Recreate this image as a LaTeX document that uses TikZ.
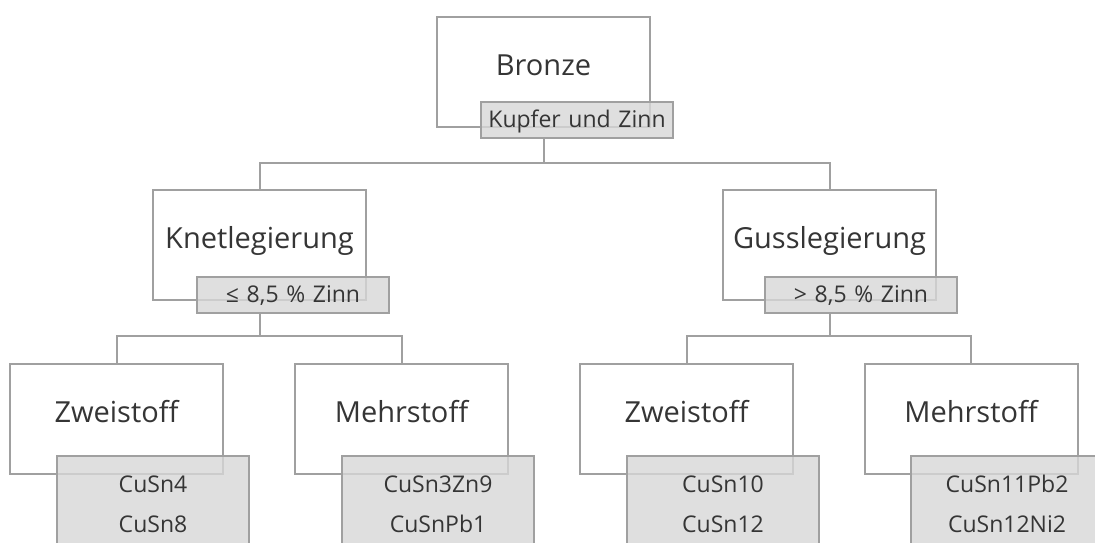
\documentclass[tikz,border=0pt]{standalone}
\usepackage{fontspec}
\setmainfont{Open Sans}
\definecolor{linegray}{HTML}{A0A0A0}
\definecolor{labelfill}{HTML}{D8D8D8}
\definecolor{txt}{HTML}{353535}
\begin{document}
\begin{tikzpicture}[x=1pt,y=-1pt,
  box/.style={draw=linegray,line width=2pt,fill=white,rectangle,inner sep=0pt,
    minimum width=213pt,text width=213pt,align=center,text height=58pt,text depth=52pt,
    font=\fontsize{29}{34}\selectfont,text=txt},
  lab/.style={draw=linegray,line width=2pt,fill=labelfill,fill opacity=0.8,draw opacity=1,text opacity=1,
    rectangle,inner sep=0pt,minimum width=192pt,text width=192pt,align=center,
    text height=25pt,text depth=11pt,font=\fontsize{23}{27}\selectfont,text=txt},
  leaf/.style={lab,text height=36pt,text depth=110pt,font=\fontsize{23}{40}\selectfont},
  conn/.style={draw=linegray,line width=2pt}]
\clip (0,0) rectangle (1095,543);
\fill[white] (0,0) rectangle (1095,543);
% main boxes
\node[box,anchor=north] (bronze) at (543.5,16) {Bronze};
\node[box,anchor=north] (knet) at (259.5,189) {Knetlegierung};
\node[box,anchor=north] (guss) at (829.5,189) {Gusslegierung};
\node[box,anchor=north] (zwL) at (116.5,363) {Zweistoff};
\node[box,anchor=north] (meL) at (401.5,363) {Mehrstoff};
\node[box,anchor=north] (zwR) at (686.5,363) {Zweistoff};
\node[box,anchor=north] (meR) at (971,363) {Mehrstoff};
% label boxes
\node[lab,anchor=north west] (kupfer) at (480,101) {Kupfer und Zinn};
\node[lab,anchor=north west] (knetlab) at (196,276) {≤ 8,5 \% Zinn};
\node[lab,anchor=north west] (gusslab) at (764,276) {> 8,5 \% Zinn};
% connectors
\coordinate (j1) at (543.5,163);
\coordinate (j2) at (259.5,336);
\coordinate (j3) at (829.5,336);
\draw[conn] (bronze.center |- kupfer.south) -- (j1);
\draw[conn] (knet.north) |- (j1) -| (guss.north);
\draw[conn] (knet.center |- knetlab.south) -- (j2);
\draw[conn] (zwL.north) |- (j2) -| (meL.north);
\draw[conn] (guss.center |- gusslab.south) -- (j3);
\draw[conn] (zwR.north) |- (j3) -| (meR.north);
% leaf label boxes
\node[leaf,anchor=north west] (zwLlab) at (56,455) {CuSn4\\CuSn8};
\node[leaf,anchor=north west] (meLlab) at (341,455) {CuSn3Zn9\\CuSnPb1};
\node[leaf,anchor=north west] (zwRlab) at (626,455) {CuSn10\\CuSn12};
\node[leaf,anchor=north west] (meRlab) at (910,455) {CuSn11Pb2\\CuSn12Ni2};
\end{tikzpicture}
\end{document}
